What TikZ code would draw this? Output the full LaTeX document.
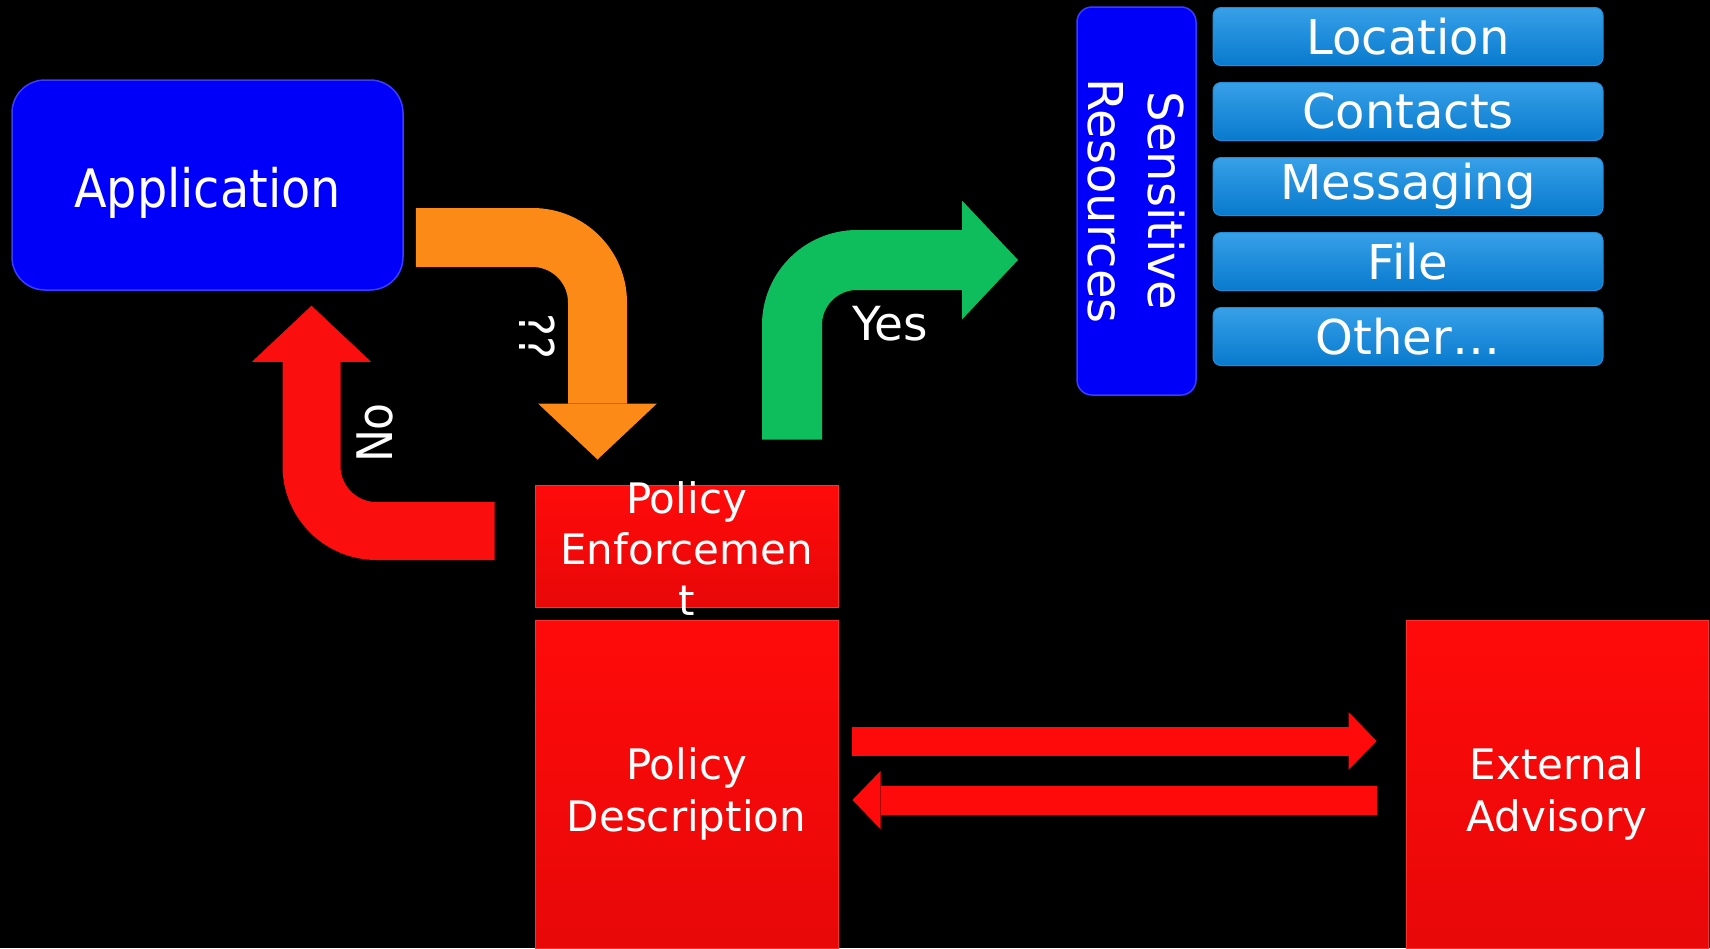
\documentclass[tikz,border=0pt]{standalone}
\usepackage{fontspec}
\setmainfont{DejaVu Sans}
\newfontfamily\narrowfont[FakeStretch=0.9]{DejaVu Sans}
\usetikzlibrary{arrows.meta}

\definecolor{appblue}{RGB}{0,0,250}
\definecolor{appedge}{RGB}{60,60,255}
\definecolor{resblue}{RGB}{8,122,205}
\definecolor{restop}{RGB}{55,160,232}
\definecolor{polred}{RGB}{255,10,10}
\definecolor{polreddark}{RGB}{232,8,8}
\definecolor{qorange}{RGB}{252,138,22}
\definecolor{yesgreen}{RGB}{14,190,92}
\definecolor{nored}{RGB}{250,14,14}

\tikzset{
  bluebox/.style={fill=appblue, draw=appedge, line width=1.5pt, text=white, inner sep=0pt},
  resbox/.style={top color=restop, bottom color=resblue, draw=restop!50!resblue, line width=1pt,
    rounded corners=8pt, minimum width=390pt, minimum height=58pt, inner sep=0pt,
    text=white, font=\fontsize{48}{56}\selectfont},
  redbox/.style={top color=polred, bottom color=polreddark, draw=polred!85!white, line width=1pt,
    inner sep=0pt},
  boxtext/.style={text=white, align=center, inner sep=0pt},
  bigarrow/.style={line width=59pt, rounded corners=65pt,
    -{Triangle[width=119pt,length=56pt,line width=0pt]}},
  bararrow/.style={draw=polred, line width=29pt,
    -{Triangle[width=58pt,length=28pt,line width=0pt]}},
  lbl/.style={text=white, inner sep=0pt, font=\narrowfont\fontsize{49}{56}\selectfont}
}

\begin{document}
\begin{tikzpicture}[x=1pt,y=-1pt]

	%background and page size
	\fill[black] (0,0) rectangle (1710,948);
	\useasboundingbox (0,0) rectangle (1710,948);

	%the application
	\node[bluebox, rounded corners=33pt, minimum width=391pt, minimum height=210pt,
		label={[boxtext, yshift=-8pt, font=\narrowfont\fontsize{53}{60}\selectfont]center:Application}]
		(app) at (207.5,185) {};

	%sensitive resources and the list beside them
	\node[bluebox, rounded corners=15pt, minimum width=388pt, minimum height=119pt, rotate=-90,
		align=center, font=\fontsize{48}{60}\selectfont] (sens) at (1136.5,201) {Sensitive\\Resources};
	\foreach \res [count=\i] in {Location,Contacts,Messaging,File,Other…}
		\node[resbox] (res\i) at (1408,{36.5+75*(\i-1)}) {\res};

	%policy boxes (red)
	\node[redbox, minimum width=303pt, minimum height=122pt,
		label={[boxtext, yshift=-3pt, font=\fontsize{42}{51}\selectfont]center:Policy\\Enforcemen\\t}]
		(enf) at (686.5,546) {};
	\node[redbox, minimum width=303pt, minimum height=328pt,
		label={[boxtext, yshift=-10pt, font=\fontsize{42}{52}\selectfont]center:Policy\\Description}]
		(desc) at (686.5,784) {};
	\node[redbox, minimum width=302pt, minimum height=328pt,
		label={[boxtext, yshift=-10pt, font=\fontsize{42}{52}\selectfont]center:External\\Advisory}]
		(ext) at (1557,784) {};

	%the request, its answers
	\draw[bigarrow, draw=qorange] ([xshift=12pt,yshift=-52.5pt]app.east) -| ([xshift=-89pt,yshift=25pt]enf.north);
	\draw[bigarrow, draw=nored, line width=58pt] ([xshift=-40pt,yshift=15pt]enf.west) -| ([xshift=104pt,yshift=-15pt]app.south);
	\coordinate (sens-in) at (1018,260);
	\draw[bigarrow, draw=yesgreen, line width=60pt] ([xshift=105.5pt,yshift=45pt]enf.north) |- (sens-in);
	\node[lbl, rotate=-90, font=\narrowfont\fontsize{48}{56}\selectfont] (ask) at (537,336) {??};
	\node[lbl, rotate=90] (no) at (375,433) {No};
	\node[lbl, font=\fontsize{47}{56}\selectfont] (yes) at (890,324) {Yes};

	%exchange with the advisory
	\draw[bararrow] ([xshift=13pt,yshift=43pt]desc.east) -- ([xshift=-29pt,yshift=43pt]ext.west);
	\draw[bararrow] ([xshift=-29pt,yshift=-16pt]ext.west) -- ([xshift=14pt,yshift=-16pt]desc.east);
\end{tikzpicture}
\end{document}
